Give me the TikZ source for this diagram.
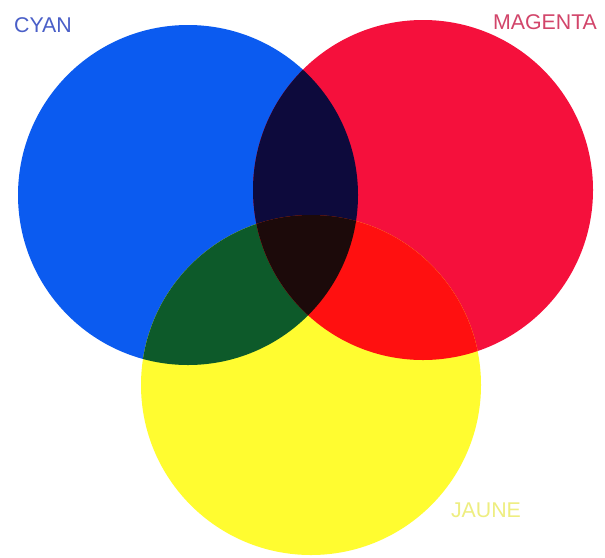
\documentclass[tikz,border=0pt]{standalone}
\usepackage{fontspec}
\setmainfont{Liberation Sans}
\usepackage{xcolor}
\usepackage{tikz}
\definecolor{ccyan}{HTML}{0B5BF0}
\definecolor{cmag}{HTML}{F5103C}
\definecolor{cjaune}{HTML}{FFFC30}
\definecolor{cbleu}{HTML}{0D0A3C}
\definecolor{cvert}{HTML}{0D5A2A}
\definecolor{crouge}{HTML}{FF1010}
\definecolor{cnoir}{HTML}{1C0A0A}
\definecolor{tcyan}{HTML}{4A5FC8}
\definecolor{tmag}{HTML}{D2456A}
\definecolor{tjaune}{HTML}{EEEE80}

\begin{document}
\begin{tikzpicture}[
  x=0.75pt, y=-0.75pt,
  disc/.style={radius=127.5pt},
  lbl/.style={font=\fontsize{16}{16}\selectfont, inner sep=0pt},
]
\useasboundingbox[fill=white] (0,0) rectangle (605,557);
\coordinate (cyan) at (188,195);
\coordinate (mag) at (423,190);
\coordinate (jaune) at (311,385);
% the three discs
\fill[ccyan] (cyan) circle[disc];
\fill[cmag] (mag) circle[disc];
\fill[cjaune] (jaune) circle[disc];
% overlaps
\begin{scope}
  \clip (cyan) circle[disc];
  \fill[cbleu] (mag) circle[disc];
  \fill[cvert] (jaune) circle[disc];
\end{scope}
\begin{scope}
  \clip (mag) circle[disc];
  \fill[crouge] (jaune) circle[disc];
\end{scope}
\begin{scope}
  \clip (cyan) circle[disc];
  \clip (mag) circle[disc];
  \fill[cnoir] (jaune) circle[disc];
\end{scope}
% labels
\node[lbl, text=tcyan] (lcyan) at (43,25) {CYAN};
\node[lbl, text=tmag] (lmag) at (545,22) {MAGENTA};
\node[lbl, text=tjaune] (ljaune) at (486,510) {JAUNE};
\end{tikzpicture}
\end{document}
